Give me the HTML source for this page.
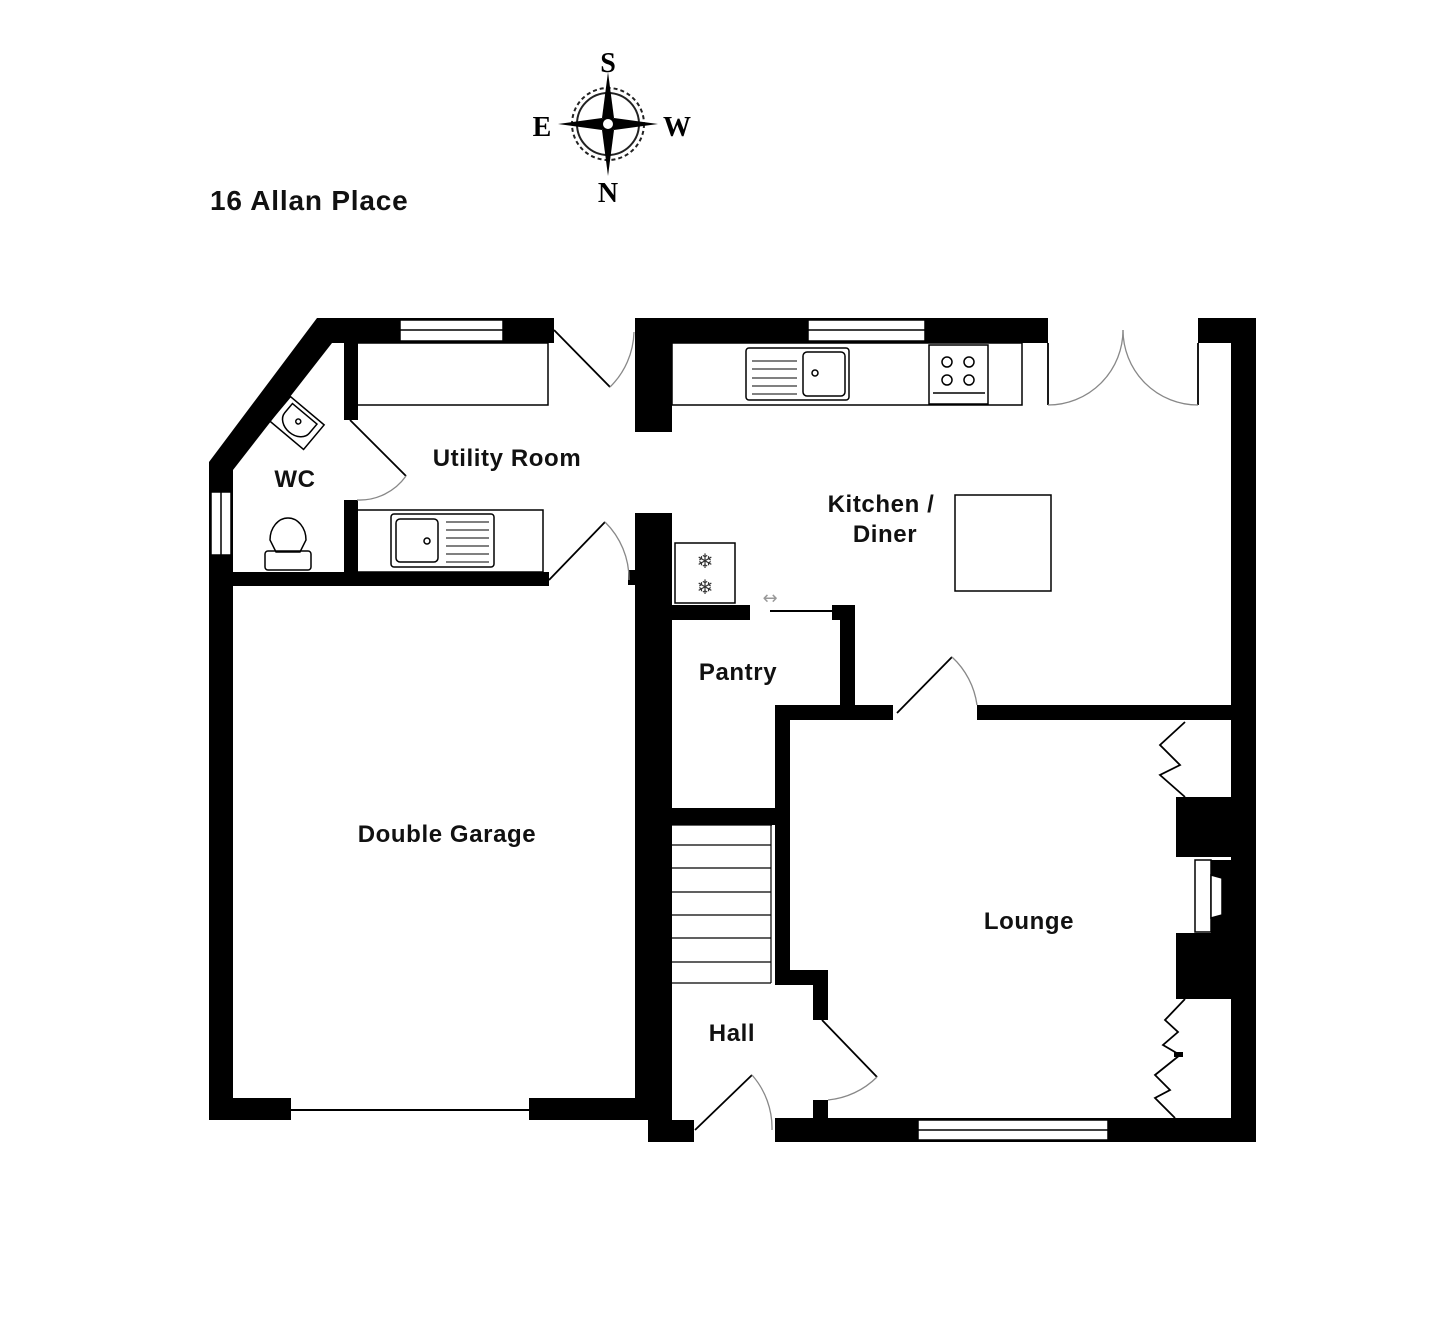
<!DOCTYPE html>
<html><head><meta charset="utf-8"><style>
html,body{margin:0;padding:0;background:#fff;}
svg{display:block;}
.l{font-family:"Liberation Sans",sans-serif;font-weight:bold;font-size:24px;letter-spacing:0.6px;fill:#111;text-anchor:middle;}
.c{font-family:"Liberation Serif",serif;font-weight:bold;font-size:28px;fill:#000;text-anchor:middle;}
</style></head><body>
<svg width="1440" height="1335" viewBox="0 0 1440 1335" xmlns="http://www.w3.org/2000/svg">
<rect width="1440" height="1335" fill="#fff"/>
<text x="210" y="210" font-family="Liberation Sans, sans-serif" font-weight="bold" font-size="28" letter-spacing="0.8" fill="#111">16 Allan Place</text>
<!-- compass -->
<g>
<circle cx="608" cy="124" r="36" fill="none" stroke="#222" stroke-width="2" stroke-dasharray="4,3"/>
<circle cx="608" cy="124" r="31" fill="none" stroke="#222" stroke-width="2"/>
<polygon points="608,72 614,118 608,124 602,118" fill="#000"/>
<polygon points="608,176 614,130 608,124 602,130" fill="#000"/>
<polygon points="558,124 602,118 608,124 602,130" fill="#000"/>
<polygon points="658,124 614,118 608,124 614,130" fill="#000"/>
<circle cx="608" cy="124" r="6" fill="#fff" stroke="#000" stroke-width="2"/>
<text class="c" x="608" y="72">S</text>
<text class="c" x="542" y="136">E</text>
<text class="c" x="677" y="136">W</text>
<text class="c" x="608" y="202">N</text>
</g>
<g fill="#000">
<rect x="317" y="318" width="237" height="25"/>
<polygon points="317,318 332,343 233,470 209,462"/>
<rect x="209" y="462" width="24" height="658"/>
<rect x="344" y="343" width="14" height="77"/>
<rect x="344" y="500" width="14" height="80"/>
<rect x="233" y="572" width="316" height="14"/>
<rect x="209" y="1098" width="82" height="22"/>
<rect x="529" y="1098" width="129" height="22"/>
<rect x="648" y="1120" width="46" height="22"/>
<rect x="635" y="318" width="37" height="114"/>
<rect x="635" y="513" width="37" height="607"/>
<rect x="628" y="570" width="8" height="15"/>
<rect x="635" y="318" width="413" height="25"/>
<rect x="1198" y="318" width="58" height="25"/>
<rect x="1231" y="318" width="25" height="824"/>
<rect x="672" y="605" width="78" height="15"/>
<rect x="832" y="605" width="23" height="15"/>
<rect x="840" y="605" width="15" height="100"/>
<rect x="775" y="705" width="118" height="15"/>
<rect x="977" y="705" width="254" height="15"/>
<rect x="775" y="705" width="15" height="280"/>
<rect x="775" y="970" width="53" height="15"/>
<rect x="813" y="970" width="15" height="50"/>
<rect x="672" y="808" width="103" height="17"/>
<rect x="813" y="1100" width="15" height="20"/>
<rect x="775" y="1118" width="481" height="24"/>
<rect x="1176" y="797" width="57" height="60"/>
<rect x="1211" y="860" width="22" height="73"/>
<rect x="1176" y="933" width="57" height="66"/>
</g>
<g fill="#fff" stroke="#000" stroke-width="1.5">
<rect x="400" y="320" width="103" height="21"/><line x1="400" y1="330" x2="503" y2="330"/>
<rect x="808" y="320" width="117" height="21"/><line x1="808" y1="330" x2="925" y2="330"/>
<rect x="211" y="492" width="20" height="63"/><line x1="221" y1="492" x2="221" y2="555"/>
<rect x="918" y="1120" width="190" height="20"/><line x1="918" y1="1130" x2="1108" y2="1130"/>
<rect x="1195" y="860" width="16" height="72"/>
<polygon points="1211,875 1222,878 1222,915 1211,918"/>
</g>
<line x1="291" y1="1110" x2="529" y2="1110" stroke="#000" stroke-width="2"/>
<g fill="none" stroke="#000" stroke-width="1.5">
<rect x="357" y="343" width="191" height="62"/>
<rect x="357" y="510" width="186" height="62"/>
<rect x="391" y="514" width="103" height="53" rx="3"/>
<rect x="396" y="519" width="42" height="43" rx="4"/>
<circle cx="427" cy="541" r="3"/>
<g stroke-width="1"><line x1="446" y1="522" x2="489" y2="522"/><line x1="446" y1="530" x2="489" y2="530"/><line x1="446" y1="538" x2="489" y2="538"/><line x1="446" y1="546" x2="489" y2="546"/><line x1="446" y1="554" x2="489" y2="554"/><line x1="446" y1="562" x2="489" y2="562"/></g>
<g transform="translate(297,423) rotate(40)"><rect x="-22" y="-16" width="44" height="32"/><path d="M-16,-12 H16 V0 A16,12 0 0 1 -16,0 Z"/><circle cx="0" cy="-2" r="2.5"/></g>
<path d="M270,540 A18,22 0 1 1 306,540 L300,552 H276 Z"/>
<rect x="265" y="551" width="46" height="19" rx="3"/>
<rect x="672" y="343" width="350" height="62"/>
<rect x="746" y="348" width="103" height="52" rx="3"/>
<rect x="803" y="352" width="42" height="44" rx="4"/>
<circle cx="815" cy="373" r="3"/>
<g stroke-width="1"><line x1="752" y1="361" x2="797" y2="361"/><line x1="752" y1="369" x2="797" y2="369"/><line x1="752" y1="378" x2="797" y2="378"/><line x1="752" y1="386" x2="797" y2="386"/><line x1="752" y1="394" x2="797" y2="394"/></g>
<rect x="929" y="345" width="59" height="59"/>
<circle cx="947" cy="362" r="5"/><circle cx="969" cy="362" r="5"/><circle cx="947" cy="380" r="5"/><circle cx="969" cy="380" r="5"/>
<line x1="933" y1="393" x2="985" y2="393"/>
<rect x="675" y="543" width="60" height="60"/>
<rect x="955" y="495" width="96" height="96"/>
</g>
<text x="705" y="568" font-size="20" text-anchor="middle" fill="#333" font-family="DejaVu Sans,sans-serif">❄</text>
<text x="705" y="594" font-size="20" text-anchor="middle" fill="#333" font-family="DejaVu Sans,sans-serif">❄</text>
<text x="770" y="604" font-size="18" text-anchor="middle" fill="#999" font-family="DejaVu Sans,sans-serif">↔</text>
<line x1="770" y1="611" x2="832" y2="611" stroke="#000" stroke-width="2"/>
<g stroke="#000" stroke-width="1.2" fill="none">
<line x1="672" y1="825" x2="772" y2="825"/>
<line x1="771" y1="825" x2="771" y2="983"/>
<line x1="672" y1="845" x2="771" y2="845"/><line x1="672" y1="868" x2="771" y2="868"/><line x1="672" y1="892" x2="771" y2="892"/><line x1="672" y1="915" x2="771" y2="915"/><line x1="672" y1="938" x2="771" y2="938"/><line x1="672" y1="962" x2="771" y2="962"/><line x1="672" y1="983" x2="771" y2="983"/>
</g>
<g fill="none" stroke="#000" stroke-width="1.8">
<line x1="350" y1="420" x2="406" y2="476"/>
<line x1="554" y1="330" x2="610" y2="387"/>
<line x1="549" y1="580" x2="605" y2="522"/>
<line x1="1048" y1="343" x2="1048" y2="405"/>
<line x1="1198" y1="343" x2="1198" y2="405"/>
<line x1="897" y1="713" x2="952" y2="657"/>
<line x1="822" y1="1020" x2="877" y2="1077"/>
<line x1="695" y1="1130" x2="752" y2="1075"/>
<polyline points="1185,722 1160,745 1180,765 1160,775 1185,797"/>
<polyline points="1185,999 1165,1020 1178,1032 1163,1045 1180,1055 1155,1075 1170,1090 1155,1098 1175,1118"/>
</g>
<rect x="1174" y="1052" width="9" height="5" fill="#000"/>
<g fill="none" stroke="#888" stroke-width="1.3">
<path d="M406,476 A57,57 0 0 1 357,500"/>
<path d="M610,387 A80,80 0 0 0 634,332"/>
<path d="M605,522 A80,80 0 0 1 629,580"/>
<path d="M1048,405 A75,75 0 0 0 1123,330"/>
<path d="M1198,405 A75,75 0 0 1 1123,330"/>
<path d="M952,657 A80,80 0 0 1 977,705"/>
<path d="M877,1077 A80,80 0 0 1 828,1100"/>
<path d="M752,1075 A80,80 0 0 1 772,1130"/>
</g>
<text class="l" x="507" y="466">Utility Room</text>
<text class="l" x="295" y="487">WC</text>
<text class="l" x="881" y="512">Kitchen /</text>
<text class="l" x="885" y="542">Diner</text>
<text class="l" x="738" y="680">Pantry</text>
<text class="l" x="447" y="842">Double Garage</text>
<text class="l" x="1029" y="929">Lounge</text>
<text class="l" x="732" y="1041">Hall</text>
</svg>
</body></html>
